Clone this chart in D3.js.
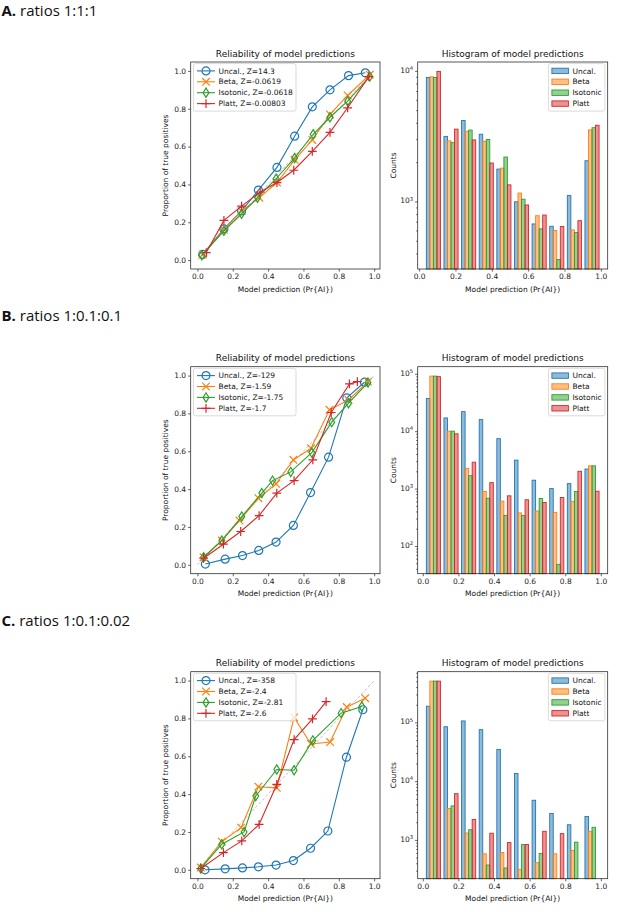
<!DOCTYPE html>
<html>
<head>
<meta charset="utf-8">
<script src="https://cdn.jsdelivr.net/npm/d3@7"></script>
<style>
  body { margin: 0; background: #fff; }
  svg { display: block; }
</style>
</head>
<body>
<div id="chart"></div>
<script>
// ---- data ----
const methods = ["Uncal.", "Beta", "Isotonic", "Platt"];
const panelLetters = ["A.", "B.", "C."];
const panelRatios = ["ratios 1:1:1", "ratios 1:0.1:0.1", "ratios 1:0.1:0.02"];
const tickValues = [0, 0.2, 0.4, 0.6, 0.8, 1.0];

const zScoresA = ["14.3", "-0.0619", "-0.0618", "-0.00803"];
const zScoresB = ["-129", "-1.59", "-1.75", "-1.7"];
const zScoresC = ["-358", "-2.4", "-2.81", "-2.6"];

// reliability curves: mean prediction (x) and proportion of true positives (y)
const relPredA = [
  [0.03, 0.15, 0.25, 0.345, 0.45, 0.55, 0.65, 0.75, 0.855, 0.95],
  [0.03, 0.15, 0.25, 0.35, 0.45, 0.55, 0.65, 0.75, 0.85, 0.975],
  [0.025, 0.15, 0.25, 0.34, 0.445, 0.55, 0.655, 0.75, 0.85, 0.975],
  [0.05, 0.15, 0.25, 0.355, 0.45, 0.545, 0.65, 0.75, 0.85, 0.97]
];
const relTrueA = [
  [0.03, 0.165, 0.26, 0.37, 0.49, 0.655, 0.81, 0.9, 0.975, 0.99],
  [0.03, 0.16, 0.26, 0.33, 0.41, 0.53, 0.635, 0.77, 0.87, 0.98],
  [0.025, 0.155, 0.245, 0.33, 0.43, 0.54, 0.665, 0.755, 0.84, 0.97],
  [0.04, 0.21, 0.285, 0.36, 0.41, 0.475, 0.575, 0.675, 0.805, 0.97]
];
const relPredB = [
  [0.045, 0.157, 0.255, 0.347, 0.445, 0.543, 0.64, 0.742, 0.845, 0.945],
  [0.035, 0.138, 0.238, 0.345, 0.445, 0.543, 0.643, 0.747, 0.855, 0.965],
  [0.035, 0.138, 0.251, 0.364, 0.425, 0.528, 0.647, 0.76, 0.855, 0.965],
  [0.035, 0.147, 0.245, 0.349, 0.449, 0.547, 0.653, 0.757, 0.86, 0.905]
];
const relTrueB = [
  [0.004, 0.03, 0.049, 0.076, 0.12, 0.208, 0.382, 0.569, 0.882, 0.965],
  [0.04, 0.128, 0.234, 0.352, 0.428, 0.555, 0.616, 0.819, 0.871, 0.968],
  [0.04, 0.128, 0.255, 0.379, 0.445, 0.491, 0.593, 0.754, 0.854, 0.963],
  [0.035, 0.109, 0.176, 0.26, 0.379, 0.445, 0.555, 0.805, 0.956, 0.968]
];
const relPredC = [
  [0.043, 0.157, 0.255, 0.345, 0.445, 0.543, 0.64, 0.738, 0.843, 0.936],
  [0.019, 0.138, 0.247, 0.345, 0.449, 0.547, 0.642, 0.751, 0.845, 0.949],
  [0.019, 0.138, 0.264, 0.33, 0.449, 0.547, 0.653, 0.813, 0.93],
  [0.019, 0.147, 0.251, 0.349, 0.449, 0.547, 0.651, 0.728]
];
const relTrueC = [
  [0.0, 0.005, 0.01, 0.016, 0.025, 0.049, 0.114, 0.205, 0.595, 0.846],
  [0.012, 0.149, 0.223, 0.439, 0.433, 0.805, 0.665, 0.675, 0.86, 0.907],
  [0.007, 0.135, 0.2, 0.39, 0.53, 0.526, 0.684, 0.828, 0.863],
  [0.007, 0.091, 0.153, 0.24, 0.451, 0.688, 0.798, 0.889]
];

// histograms: 10 bins over the range of predictions, counts per method
const histRangeA = [0.03, 1.0];
const histRangeB = [0.01, 1.0];
const histRangeC = [0.01, 1.0];
const histCountsA = [
  [8900, 3150, 4170, 3270, 1770, 995, 673, 646, 1110, 2050],
  [9000, 2910, 3440, 2890, 1800, 1160, 778, 599, 606, 3530],
  [8900, 2820, 3520, 2980, 2190, 1040, 617, 359, 578, 3670],
  [9900, 3580, 2960, 1970, 1340, 940, 787, 643, 713, 3830]
];
const histCountsB = [
  [37000, 17000, 21900, 15900, 7400, 3130, 1400, 1000, 1220, 2190],
  [91000, 10000, 2250, 890, 605, 377, 407, 385, 598, 2490],
  [91000, 10000, 1680, 680, 342, 339, 673, 48, 890, 2490],
  [89000, 9000, 2880, 1270, 748, 638, 574, 700, 2000, 900]
];
const histCountsC = [
  [189000, 84500, 106000, 75300, 34700, 13500, 4730, 2820, 1810, 2510],
  [505000, 3430, 1310, 580, 611, 316, 409, 580, 660, 1400],
  [505000, 3790, 1490, 374, 333, 833, 587, 0, 915, 1640],
  [505000, 6120, 2230, 1300, 900, 833, 1400, 1280, 0, 0]
];

// ---- styling / layout ----
const colors = ["#1f77b4", "#ff7f0e", "#2ca02c", "#d62728"];
const markers = ["circle", "x", "thinDiamond", "plus"];
const mplFont = "DejaVu Sans, sans-serif";
const width = 617, height = 912;
const relLeft = 190.7, relW = 189.3;
const histLeft = 417.7, histW = 190;
const frameH = 207;
const panelTop = [62, 366.7, 671.7];
const labelBaseline = [16, 320.5, 626];

const svg = d3.select("#chart").append("svg")
  .attr("width", width).attr("height", height)
  .attr("font-family", mplFont);

function markerPath(type) {
  const p = d3.path();
  if (type === "circle") {
    p.moveTo(4, 0); p.arc(0, 0, 4, 0, 2 * Math.PI);
  } else if (type === "x") {
    p.moveTo(-3.8, -3.8); p.lineTo(3.8, 3.8);
    p.moveTo(-3.8, 3.8); p.lineTo(3.8, -3.8);
  } else if (type === "thinDiamond") {
    p.moveTo(0, -4.6); p.lineTo(2.9, 0); p.lineTo(0, 4.6); p.lineTo(-2.9, 0); p.closePath();
  } else {
    p.moveTo(-4.4, 0); p.lineTo(4.4, 0);
    p.moveTo(0, -4.4); p.lineTo(0, 4.4);
  }
  return p.toString();
}

function styleAxis(ax) {
  ax.select(".domain").remove();
  ax.selectAll(".tick line").attr("stroke", "#222").attr("stroke-width", 0.7);
  ax.selectAll(".tick text").attr("font-size", 7.5).attr("fill", "#222")
    .attr("font-family", mplFont);
}

function drawFrame(g, w) {
  g.append("rect").attr("width", w).attr("height", frameH)
    .attr("fill", "none").attr("stroke", "#222").attr("stroke-width", 0.75);
}

function drawTitleAndLabels(g, w, title, xLabel, yLabel, yLabelX) {
  g.append("text").attr("x", w / 2).attr("y", -5.5)
    .attr("text-anchor", "middle").attr("font-size", 9).attr("fill", "#111")
    .text(title);
  g.append("text").attr("x", w / 2).attr("y", frameH + 22.5)
    .attr("text-anchor", "middle").attr("font-size", 7.5).attr("fill", "#111")
    .text(xLabel);
  g.append("text")
    .attr("transform", `translate(${yLabelX},${frameH / 2}) rotate(-90)`)
    .attr("text-anchor", "middle").attr("font-size", 7.5).attr("fill", "#111")
    .text(yLabel);
}

function drawReliability(g, preds, trues, zs) {
  const x = d3.scaleLinear().domain([-0.038, 1.033]).range([0, relW]);
  const y = d3.scaleLinear().domain([-0.047, 1.047]).range([frameH, 0]);

  g.append("g").attr("transform", `translate(0,${frameH})`)
    .call(d3.axisBottom(x).tickValues(tickValues).tickFormat(d3.format(".1f"))
      .tickSize(2.6).tickPadding(2))
    .call(styleAxis);
  g.append("g")
    .call(d3.axisLeft(y).tickValues(tickValues).tickFormat(d3.format(".1f"))
      .tickSize(2.6).tickPadding(2))
    .call(styleAxis);

  // perfect calibration reference
  g.append("line")
    .attr("x1", x(0)).attr("y1", y(0)).attr("x2", x(1)).attr("y2", y(1))
    .attr("stroke", "#bbb").attr("stroke-width", 0.9).attr("stroke-dasharray", "3,2");

  const line = d3.line().x(d => x(d[0])).y(d => y(d[1]));
  methods.forEach((m, i) => {
    const pts = preds[i].map((v, k) => [v, trues[i][k]]);
    const s = g.append("g");
    s.append("path").attr("d", line(pts))
      .attr("fill", "none").attr("stroke", colors[i]).attr("stroke-width", 1.1);
    s.selectAll("path.mk").data(pts).join("path").attr("class", "mk")
      .attr("transform", d => `translate(${x(d[0])},${y(d[1])})`)
      .attr("d", markerPath(markers[i]))
      .attr("fill", "none").attr("stroke", colors[i]).attr("stroke-width", 1.2);
  });

  drawFrame(g, relW);

  // legend
  const lg = g.append("g").attr("transform", "translate(2.8,1.6)");
  lg.append("rect").attr("width", 102.5).attr("height", 47.5).attr("rx", 2)
    .attr("fill", "#fff").attr("fill-opacity", 0.8)
    .attr("stroke", "#ccc").attr("stroke-width", 0.7);
  methods.forEach((m, i) => {
    const row = lg.append("g").attr("transform", `translate(0,${7.3 + i * 10.9})`);
    row.append("line").attr("x1", 3.5).attr("x2", 21.5)
      .attr("stroke", colors[i]).attr("stroke-width", 1.1);
    row.append("path").attr("transform", "translate(12.5,0)")
      .attr("d", markerPath(markers[i]))
      .attr("fill", "none").attr("stroke", colors[i]).attr("stroke-width", 1.2);
    row.append("text").attr("x", 25).attr("dy", "0.35em")
      .attr("font-size", 7.5).attr("fill", "#111")
      .text(`${m}, Z=${zs[i]}`);
  });

  drawTitleAndLabels(g, relW, "Reliability of model predictions",
    "Model prediction (Pr{AI})", "Proportion of true positives", -22.5);
}

function drawHistogram(g, counts, range) {
  const nBins = 10;
  const bw = (range[1] - range[0]) / nBins;
  const bars = [];
  counts.forEach((row, j) => row.forEach((c, b) => {
    if (c > 0) bars.push({ j, c, x0: range[0] + b * bw + bw * (0.1 + 0.2 * j) });
  }));

  const xMin = range[0] + 0.1 * bw, xMax = range[1] - 0.1 * bw;
  const xPad = 0.05 * (xMax - xMin);
  const x = d3.scaleLinear().domain([xMin - xPad, xMax + xPad]).range([0, histW]);

  const positive = counts.flat().filter(c => c > 0);
  const lo = Math.log10(d3.min(positive)), hi = Math.log10(d3.max(positive));
  const lPad = 0.05 * (hi - lo);
  const y = d3.scaleLog().domain([10 ** (lo - lPad), 10 ** (hi + lPad)]).range([frameH, 0]);

  g.append("g").attr("transform", `translate(0,${frameH})`)
    .call(d3.axisBottom(x).tickValues(tickValues).tickFormat(d3.format(".1f"))
      .tickSize(2.6).tickPadding(2))
    .call(styleAxis);

  const [dLo, dHi] = y.domain();
  const majors = [], minors = [];
  for (let k = Math.floor(Math.log10(dLo)); k <= Math.ceil(Math.log10(dHi)); k++) {
    for (let m = 1; m < 10; m++) {
      const v = m * 10 ** k;
      if (v < dLo || v > dHi) continue;
      (m === 1 ? majors : minors).push(v);
    }
  }
  g.append("g")
    .call(d3.axisLeft(y).tickValues(minors).tickFormat("").tickSize(1.5))
    .call(styleAxis);
  const majorAxis = g.append("g")
    .call(d3.axisLeft(y).tickValues(majors).tickFormat("").tickSize(2.6).tickPadding(2))
    .call(styleAxis);
  majorAxis.selectAll(".tick text").each(function (d) {
    const t = d3.select(this).attr("dy", "0.2em");
    t.append("tspan").text("10");
    t.append("tspan").attr("dy", "-0.55em").attr("font-size", 5.3)
      .text(Math.round(Math.log10(d)));
  });

  g.append("g").selectAll("rect").data(bars).join("rect")
    .attr("x", d => x(d.x0))
    .attr("width", d => x(d.x0 + 0.2 * bw) - x(d.x0))
    .attr("y", d => y(d.c))
    .attr("height", d => frameH - y(d.c))
    .attr("fill", d => colors[d.j]).attr("fill-opacity", 0.5)
    .attr("stroke", d => colors[d.j]).attr("stroke-width", 0.9);

  drawFrame(g, histW);

  const lg = g.append("g").attr("transform", `translate(${histW - 2.8 - 56.5},1.6)`);
  lg.append("rect").attr("width", 56.5).attr("height", 47.5).attr("rx", 2)
    .attr("fill", "#fff").attr("fill-opacity", 0.8)
    .attr("stroke", "#ccc").attr("stroke-width", 0.7);
  methods.forEach((m, i) => {
    const row = lg.append("g").attr("transform", `translate(0,${7.3 + i * 10.9})`);
    row.append("rect").attr("x", 3.5).attr("y", -2.7).attr("width", 16.5).attr("height", 5.4)
      .attr("fill", colors[i]).attr("fill-opacity", 0.5)
      .attr("stroke", colors[i]).attr("stroke-width", 0.9);
    row.append("text").attr("x", 24).attr("dy", "0.35em")
      .attr("font-size", 7.5).attr("fill", "#111").text(m);
  });

  drawTitleAndLabels(g, histW, "Histogram of model predictions",
    "Model prediction (Pr{AI})", "Counts", -21.5);
}

const relPreds = [relPredA, relPredB, relPredC];
const relTrues = [relTrueA, relTrueB, relTrueC];
const zScores = [zScoresA, zScoresB, zScoresC];
const histCounts = [histCountsA, histCountsB, histCountsC];
const histRanges = [histRangeA, histRangeB, histRangeC];

panelLetters.forEach((letter, p) => {
  const lab = svg.append("text").attr("x", 1.5).attr("y", labelBaseline[p])
    .attr("font-family", "Open Sans, Noto Sans, sans-serif").attr("font-size", 15)
    .attr("fill", "#111");
  lab.append("tspan").attr("font-weight", "bold").text(letter);
  lab.append("tspan").text(" " + panelRatios[p]);

  const gRel = svg.append("g").attr("transform", `translate(${relLeft},${panelTop[p]})`);
  drawReliability(gRel, relPreds[p], relTrues[p], zScores[p]);

  const gHist = svg.append("g").attr("transform", `translate(${histLeft},${panelTop[p]})`);
  drawHistogram(gHist, histCounts[p], histRanges[p]);
});
</script>
</body>
</html>
